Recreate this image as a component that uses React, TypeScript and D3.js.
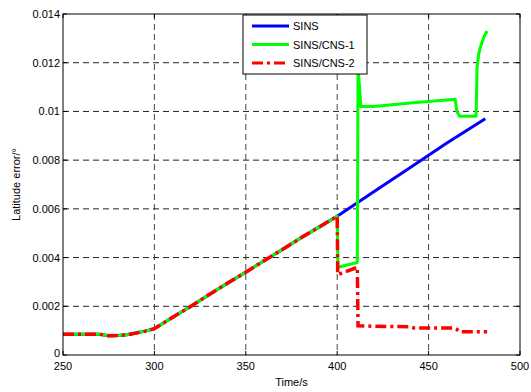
import React from "react";
import * as d3 from "d3";

const commonT = [250, 260, 270, 275, 280, 285, 290, 295, 300, 310, 320, 330, 340, 350, 360, 370, 380, 390, 400];
const commonV = [0.00085, 0.00085, 0.00085, 0.00079, 0.0008, 0.00083, 0.0009, 0.00098, 0.00108, 0.00155, 0.002, 0.00248, 0.00295, 0.0034, 0.00387, 0.00433, 0.0048, 0.00525, 0.0057];

const sinsT = [410, 420, 440, 460, 481];
const sinsV = [0.0062, 0.0067, 0.0077, 0.0087, 0.0097];

const cns1T = [400, 400.4, 411, 411.4, 412, 413, 420, 440, 464.5, 465.5, 467, 470, 476, 476.5, 477.5, 479, 480.5, 482];
const cns1V = [0.0057, 0.0036, 0.0038, 0.0118, 0.0112, 0.0102, 0.0102, 0.01035, 0.0105, 0.01, 0.0098, 0.0098, 0.0098, 0.0118, 0.0124, 0.0128, 0.0131, 0.0133];

const cns2T = [400, 400.3, 411, 411.4, 420, 440, 442, 464, 465.5, 467, 482];
const cns2V = [0.0057, 0.0033, 0.0036, 0.0012, 0.00118, 0.00116, 0.00111, 0.00111, 0.00105, 0.00095, 0.00095];

const xTicks = [250, 300, 350, 400, 450, 500];
const yTicks = [0, 0.002, 0.004, 0.006, 0.008, 0.01, 0.012, 0.014];
const yTickLabels = ["0", "0.002", "0.004", "0.006", "0.008", "0.01", "0.012", "0.014"];

const seriesNames = ["SINS", "SINS/CNS-1", "SINS/CNS-2"];
const seriesColors = ["#0000ff", "#00ff00", "#ff0000"];

export default function App() {
  const W = 531, H = 392;
  const L = 63, R = 520, T = 14, B = 355;
  const x = d3.scaleLinear().domain([250, 500]).range([L, R]);
  const y = d3.scaleLinear().domain([0, 0.014]).range([B, T]);
  const line = d3.line<[number, number]>().x(d => x(d[0])).y(d => y(d[1]));

  const common: [number, number][] = commonT.map((t, i) => [t, commonV[i]]);
  const sins = common.concat(sinsT.map((t, i) => [t, sinsV[i]] as [number, number]));
  const c1 = common.concat(cns1T.map((t, i) => [t, cns1V[i]] as [number, number]));
  const c2 = common.concat(cns2T.map((t, i) => [t, cns2V[i]] as [number, number]));
  const font = "Liberation Sans, Arial, sans-serif";

  return (
    <svg width={W} height={H} style={{ position: "absolute", left: 0, top: 0, background: "#fff" }}>
      <rect x={0} y={0} width={W} height={H} fill="#fff" />
      {xTicks.slice(1, -1).map(t => (
        <line key={"gx" + t} x1={x(t)} x2={x(t)} y1={T} y2={B} stroke="#444" strokeWidth={1} strokeDasharray="6,4" />
      ))}
      {yTicks.slice(1, -1).map(t => (
        <line key={"gy" + t} x1={L} x2={R} y1={y(t)} y2={y(t)} stroke="#222" strokeWidth={1} strokeDasharray="6,4" />
      ))}
      <path d={line(sins) || ""} fill="none" stroke={seriesColors[0]} strokeWidth={3} />
      <path d={line(c1) || ""} fill="none" stroke={seriesColors[1]} strokeWidth={3} strokeLinejoin="round" />
      <path d={line(c2) || ""} fill="none" stroke={seriesColors[2]} strokeWidth={3.5} strokeDasharray="11,4,3,4" />
      <rect x={L} y={T} width={R - L} height={B - T} fill="none" stroke="#000" strokeWidth={1} />
      {xTicks.map(t => (
        <g key={"tx" + t}>
          <line x1={x(t)} x2={x(t)} y1={B} y2={B - 4} stroke="#000" />
          <line x1={x(t)} x2={x(t)} y1={T} y2={T + 4} stroke="#000" />
          <text x={x(t)} y={B + 15} textAnchor="middle" fontSize={11} fontFamily={font}>{t}</text>
        </g>
      ))}
      {yTicks.map((t, i) => (
        <g key={"ty" + t}>
          <line x1={L} x2={L + 4} y1={y(t)} y2={y(t)} stroke="#000" />
          <line x1={R} x2={R - 4} y1={y(t)} y2={y(t)} stroke="#000" />
          <text x={L - 3} y={y(t) + (i === 0 ? 2 : 4)} textAnchor="end" fontSize={11} fontFamily={font}>{yTickLabels[i]}</text>
        </g>
      ))}
      <text x={(L + R) / 2} y={386} textAnchor="middle" fontSize={11} fontFamily={font}>Time/s</text>
      <text transform={`translate(20, ${(T + B) / 2}) rotate(-90)`} textAnchor="middle" fontSize={11} fontFamily={font}>Latitude error/°</text>
      <rect x={243} y={15} width={124} height={59} fill="#fff" stroke="#000" strokeWidth={1} />
      {seriesNames.map((n, i) => (
        <g key={n}>
          <line x1={252} x2={289} y1={26 + i * 18.5} y2={26 + i * 18.5} stroke={seriesColors[i]} strokeWidth={3}
            strokeDasharray={i === 2 ? "11,4,3,4" : undefined} />
          <text x={293} y={30 + i * 18.5} fontSize={11} fontFamily={font}>{n}</text>
        </g>
      ))}
    </svg>
  );
}
